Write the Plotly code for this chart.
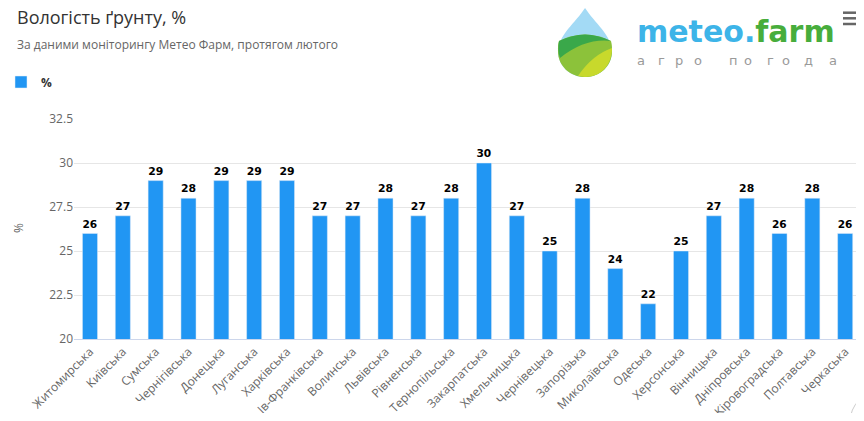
import plotly.graph_objects as go

regions = ['Житомирська', 'Київська', 'Сумська', 'Чернігівська', 'Донецька', 'Луганська',
           'Харківська', 'Ів-Франківська', 'Волинська', 'Львівська', 'Рівненська', 'Тернопільська',
           'Закарпатська', 'Хмельницька', 'Чернівецька', 'Запорізька', 'Миколаївська', 'Одеська',
           'Херсонська', 'Вінницька', 'Дніпровська', 'Кіровоградська', 'Полтавська', 'Черкаська']
moisture = [26, 27, 29, 28, 29, 29, 29, 27, 27, 28, 27, 28, 30, 27, 25, 28, 24, 22, 25, 27, 28, 26, 28, 26]
y_ticks = [20, 22.5, 25, 27.5, 30, 32.5]

# the page has an 8px body margin, so the figure is made smaller and everything is placed
# in page pixels minus that offset
OFF = 8
W, H = 864 - 2 * OFF, 421 - 2 * OFF
L, R, T, B = 74 - OFF, 0, 119 - OFF, H - (339 - OFF)
PW, PH = W - L - R, H - T - B


def px(x):
    return (x - OFF - L) / PW


def py(y):
    return (H - B - (y - OFF)) / PH


def path(cmds):
    out = []
    for cmd, pts in cmds:
        out.append(cmd + ' '.join(f'{px(a):.4f},{py(b):.4f}' for a, b in pts))
    return ' '.join(out) + ' Z'


fig = go.Figure()
fig.add_trace(go.Bar(x=regions, y=moisture, name='%', marker_color='#2196F3', width=0.46,
                     text=moisture, textposition='outside', cliponaxis=False,
                     textfont=dict(family='DejaVu Sans', size=11, color='black', weight='bold')))

shapes = []
# logo drop
drop = [('M', [(585, 8)]), ('C', [(576, 22), (558, 36), (558, 51)]),
        ('C', [(558, 66), (570, 77), (585, 77)]), ('C', [(600, 77), (612, 66), (612, 51)]),
        ('C', [(612, 36), (594, 22), (585, 8)])]
shapes.append(dict(type='path', path=path(drop), fillcolor='#a3daf5', line=dict(width=0)))
field = [('M', [(559, 41)]), ('Q', [(585, 28), (611, 41)]), ('C', [(612, 45), (612, 48), (612, 51)]),
         ('C', [(612, 66), (600, 77), (585, 77)]), ('C', [(570, 77), (558, 66), (558, 51)]),
         ('C', [(558, 47), (558, 44), (559, 41)])]
shapes.append(dict(type='path', path=path(field), fillcolor='#8cc23a', line=dict(width=0)))
dark = [('M', [(559, 41)]), ('Q', [(585, 28), (611, 41)]), ('Q', [(585, 38), (560, 58)]),
        ('C', [(558, 53), (558, 46), (559, 41)])]
shapes.append(dict(type='path', path=path(dark), fillcolor='#3aa84a', line=dict(width=0)))
light = [('M', [(578, 76)]), ('Q', [(592, 55), (612, 48)]), ('C', [(612, 66), (600, 77), (585, 77)])]
shapes.append(dict(type='path', path=path(light), fillcolor='#c8d92c', line=dict(width=0)))
# menu icon
for yy in [12.7, 18.3, 24]:
    shapes.append(dict(type='line', x0=px(843), x1=px(859), y0=py(yy), y1=py(yy),
                       line=dict(color='#666666', width=2.5)))
# partial circle at bottom right
shapes.append(dict(type='circle', x0=px(850), x1=px(912), y0=py(391), y1=py(453),
                   line=dict(color='#cccccc', width=1)))
for s in shapes:
    s.update(xref='paper', yref='paper', layer='above')

annotations = [
    dict(text='Вологість ґрунту, %', x=px(15), y=py(17), xanchor='left', yanchor='middle',
         font=dict(family='Open Sans', size=18, color='#333333')),
    dict(text='За даними моніторингу Метео Фарм, протягом лютого', x=px(15), y=py(45),
         xanchor='left', yanchor='middle', font=dict(family='Open Sans', size=12, color='#666666')),
    dict(text='%', x=px(18), y=py(228), textangle=-90, xanchor='center', yanchor='middle',
         font=dict(family='Open Sans', size=12, color='#666666')),
    dict(text='<span style="color:#3db4e8">meteo.</span><span style="color:#47ad3c">farm</span>',
         x=px(635), y=py(31), xanchor='left', yanchor='middle',
         font=dict(family='DejaVu Sans', size=30, weight='bold')),
]
logo_letters = list('агро') + list('погода')
logo_x = [641, 661, 679, 698, 733, 748, 770, 786, 808, 833]
for ch, xx in zip(logo_letters, logo_x):
    annotations.append(dict(text=ch, x=px(xx), y=py(60), xanchor='center', yanchor='middle',
                            font=dict(family='DejaVu Sans', size=13, color='#9a9a9a')))
for a in annotations:
    a.update(xref='paper', yref='paper', showarrow=False)

fig.update_layout(
    width=W, height=H, margin=dict(l=L, r=R, t=T, b=B, autoexpand=False),
    plot_bgcolor='white', paper_bgcolor='white',
    font=dict(family='Open Sans', size=12, color='#666666'),
    showlegend=True,
    legend=dict(x=px(1), y=py(82), xanchor='left', yanchor='middle', orientation='h',
                font=dict(size=12, color='#333333', weight='bold'), bgcolor='rgba(0,0,0,0)'),
    xaxis=dict(tickangle=-45, showline=True, linecolor='#ccd6eb', linewidth=1, ticks='',
               range=[-0.487, 23.33], tickfont=dict(size=12, color='#666666'), showgrid=False),
    yaxis=dict(range=[20, 32.5], tickvals=y_ticks, ticktext=[f'{v:g}' for v in y_ticks],
               gridcolor='#e6e6e6', gridwidth=1, zeroline=False, ticks='',
               tickfont=dict(size=12, color='#666666')),
    shapes=shapes, annotations=annotations,
)

fig.write_html('out.html')
